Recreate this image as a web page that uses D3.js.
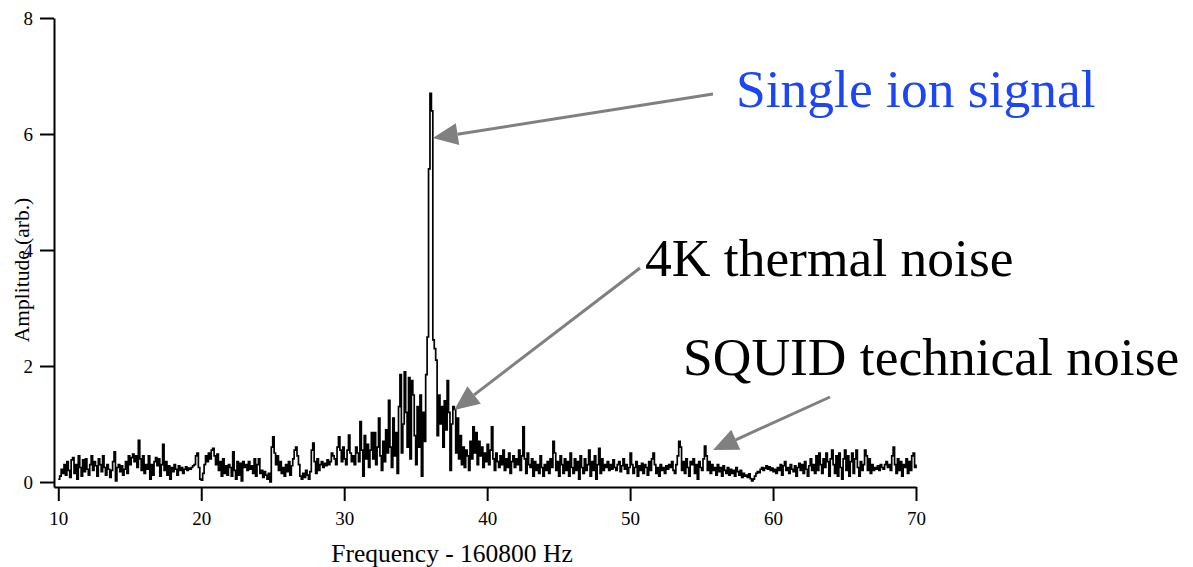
<!DOCTYPE html>
<html><head><meta charset="utf-8">
<script src="https://cdn.jsdelivr.net/npm/d3@7"></script>
<style>body{margin:0;background:#fff}svg{display:block}text{font-family:"Liberation Serif","Times New Roman",serif}</style>
</head><body><svg id="c" width="1193" height="567"></svg>
<script>
// Frequency start and step (Hz offset from 160800 Hz)
const freqStart = 10.0, freqStep = 0.1;
// Amplitude values (arb.), 10.0 .. 70.0 Hz, one row per Hz
const amplitude = [
0.05,0.10,0.22,0.15,0.30,0.12,0.35,0.20,0.08,0.38,
0.42,0.15,0.30,0.05,0.45,0.25,0.10,0.38,0.18,0.40,
0.22,0.12,0.30,0.45,0.20,0.35,0.28,0.10,0.40,0.30,
0.18,0.45,0.25,0.12,0.30,0.22,0.08,0.20,0.35,0.52,
0.02,0.25,0.30,0.18,0.28,0.12,0.22,0.35,0.15,0.45,
0.30,0.42,0.48,0.35,0.45,0.25,0.72,0.40,0.20,0.45,
0.15,0.30,0.22,0.45,0.05,0.30,0.12,0.35,0.42,0.28,
0.40,0.10,0.30,0.65,0.20,0.35,0.12,0.28,0.05,0.25,
0.18,0.30,0.22,0.12,0.28,0.20,0.25,0.15,0.22,0.26,
0.20,0.24,0.22,0.25,0.28,0.30,0.45,0.50,0.25,0.05,
0.03,0.15,0.30,0.45,0.35,0.50,0.40,0.55,0.58,0.45,
0.30,0.48,0.20,0.35,0.10,0.40,0.15,0.28,0.12,0.30,
0.25,0.10,0.52,0.20,0.05,0.35,0.12,0.32,0.02,0.35,
0.25,0.30,0.20,0.35,0.22,0.28,0.15,0.40,0.10,0.30,
0.40,0.15,0.20,0.08,0.18,0.12,0.05,0.15,0.00,0.60,
0.78,0.50,0.30,0.45,0.20,0.35,0.15,0.25,0.10,0.30,
0.18,0.35,0.12,0.28,0.40,0.55,0.60,0.45,0.30,0.10,
0.05,0.15,0.08,0.20,0.12,0.05,0.18,0.55,0.67,0.35,
0.15,0.40,0.20,0.30,0.35,0.25,0.32,0.28,0.38,0.30,
0.35,0.50,0.45,0.40,0.30,0.60,0.78,0.55,0.35,0.60,
0.40,0.30,0.55,0.81,0.50,0.35,0.45,0.30,0.60,0.50,
0.35,1.04,0.55,0.10,0.80,0.40,0.65,0.25,0.55,0.85,
0.40,0.85,0.30,0.60,1.10,0.45,0.20,0.70,0.35,0.90,
0.50,1.41,0.60,0.25,1.10,0.45,0.85,0.15,1.30,1.85,
0.50,1.00,1.90,1.20,0.60,1.80,0.40,1.75,1.50,0.80,
0.30,1.30,0.60,1.50,0.10,1.20,0.70,1.85,2.50,5.40,
6.70,6.40,2.45,2.30,2.10,0.80,1.50,1.00,1.30,0.60,
1.40,0.90,1.75,1.20,0.20,1.00,1.30,1.25,0.50,1.10,
0.40,0.80,0.30,0.60,0.25,0.55,0.45,0.20,0.70,0.40,
0.95,0.50,0.85,0.30,0.70,0.45,0.60,0.25,0.50,0.35,
0.65,0.30,0.55,0.95,0.40,0.20,0.50,0.35,0.25,0.45,
0.30,0.55,0.20,0.40,0.25,0.50,0.15,0.35,0.45,0.25,
0.40,0.30,0.55,0.20,0.45,0.95,0.40,0.15,0.50,0.30,
0.25,0.40,0.10,0.35,0.20,0.30,0.15,0.45,0.25,0.10,
0.30,0.20,0.35,0.15,0.40,0.25,0.70,0.50,0.20,0.35,
0.10,0.45,0.30,0.15,0.40,0.20,0.35,0.10,0.50,0.25,
0.15,0.40,0.20,0.35,0.05,0.45,0.25,0.15,0.40,0.20,
0.30,0.55,0.10,0.35,0.20,0.45,0.05,0.30,0.58,0.15,
0.40,0.20,0.30,0.25,0.35,0.20,0.30,0.22,0.38,0.25,
0.20,0.30,0.35,0.18,0.28,0.40,0.22,0.30,0.15,0.25,
0.50,0.30,0.15,0.25,0.35,0.10,0.28,0.20,0.32,0.15,
0.30,0.25,0.12,0.35,0.20,0.40,0.50,0.30,0.15,0.25,
0.10,0.30,0.20,0.25,0.15,0.28,0.22,0.30,0.25,0.35,
0.20,0.15,0.30,0.45,0.70,0.60,0.20,0.35,0.15,0.40,
0.25,0.10,0.35,0.30,0.40,0.15,0.30,0.05,0.35,0.25,
0.20,0.40,0.62,0.45,0.20,0.35,0.15,0.30,0.20,0.25,
0.12,0.30,0.18,0.25,0.10,0.28,0.20,0.15,0.25,0.12,
0.22,0.15,0.20,0.10,0.25,0.18,0.12,0.20,0.08,0.15,
0.10,0.12,0.08,0.14,0.06,0.02,0.05,0.10,0.15,0.18,
0.16,0.22,0.25,0.20,0.24,0.28,0.22,0.26,0.20,0.24,
0.18,0.22,0.15,0.25,0.20,0.30,0.12,0.28,0.35,0.20,
0.25,0.15,0.30,0.22,0.18,0.28,0.10,0.25,0.32,0.20,
0.30,0.15,0.35,0.22,0.10,0.28,0.40,0.20,0.30,0.15,
0.45,0.20,0.50,0.30,0.15,0.40,0.25,0.50,0.35,0.10,
0.40,0.55,0.30,0.15,0.45,0.10,0.50,0.25,0.05,0.40,
0.55,0.20,0.45,0.10,0.35,0.50,0.15,0.40,0.55,0.25,
0.10,0.35,0.20,0.30,0.55,0.45,0.20,0.40,0.15,0.30,
0.20,0.25,0.22,0.28,0.20,0.30,0.25,0.22,0.30,0.35,
0.25,0.30,0.20,0.45,0.60,0.30,0.15,0.40,0.20,0.35,
0.10,0.30,0.25,0.40,0.15,0.35,0.20,0.45,0.50,0.25,
0.30
];
const xTicks = [10,20,30,40,50,60,70];
const yTicks = [0,2,4,6,8];
const xTitle = "Frequency - 160800 Hz";
const yTitle = "Amplitude (arb.)";
// Annotations: label and arrow tip (freq, amp)
const annLabels = ["Single ion signal","4K thermal noise","SQUID technical noise"];
const annTips = [[36.2,5.93],[37.7,1.24],[55.8,0.55]];
const annColors = ["#1c46f2","#000","#000"];

const svg = d3.select("#c");
svg.append("rect").attr("width",1193).attr("height",567).attr("fill","#fff");
const x = d3.scaleLinear().domain([9.7,70]).range([54,916]);
const y = d3.scaleLinear().domain([-0.086,8]).range([487,18]);

const data = amplitude.map((v,i)=>({f: freqStart + i*freqStep, a: v}));

// axes
const gx = svg.append("g").attr("transform","translate(0,487)")
  .call(d3.axisBottom(x).tickValues(xTicks).tickSize(14).tickSizeOuter(0).tickPadding(6));
const gy = svg.append("g").attr("transform","translate(54,0)")
  .call(d3.axisLeft(y).tickValues(yTicks).tickSize(14).tickSizeOuter(0).tickPadding(7));
[gx,gy].forEach(g=>{
  g.select(".domain").attr("stroke","#000").attr("stroke-width",2);
  g.selectAll(".tick line").attr("stroke","#000").attr("stroke-width",2);
  g.selectAll(".tick text").attr("fill","#000").style("font-size","19px").style("font-family","'Liberation Serif',serif");
});
gx.selectAll(".tick text").attr("dy","0.95em");

// spectrum line
const line = d3.line().x(d=>x(d.f)).y(d=>y(d.a)).curve(d3.curveStepAfter);
svg.append("path").datum(data).attr("d",line)
  .attr("fill","none").attr("stroke","#000").attr("stroke-width",1.7).attr("stroke-linejoin","miter");

// titles
svg.append("text").attr("x",452).attr("y",562).attr("text-anchor","middle")
  .style("font-size","25.5px").text(xTitle);
svg.append("text").attr("transform","translate(29,270) rotate(-90)").attr("text-anchor","middle")
  .style("font-size","21.5px").text(yTitle);

// annotations
const annText = [[736,107],[645,276],[683,375]];
const annStart = [[713,94],[640,268],[830,397]];
annLabels.forEach((lab,i)=>{
  svg.append("text").attr("x",annText[i][0]).attr("y",annText[i][1])
    .attr("fill",annColors[i]).style("font-size","53.5px").text(lab);
  const tx = x(annTips[i][0]), ty = y(annTips[i][1]);
  const sx = annStart[i][0], sy = annStart[i][1];
  const ang = Math.atan2(ty-sy, tx-sx);
  const L = 25, W = 11;
  const bx = tx - L*Math.cos(ang), by = ty - L*Math.sin(ang);
  svg.append("line").attr("x1",sx).attr("y1",sy).attr("x2",bx).attr("y2",by)
    .attr("stroke","#808080").attr("stroke-width",3);
  const px = -Math.sin(ang), py = Math.cos(ang);
  svg.append("polygon").attr("points",
    [[tx,ty],[bx+W*px,by+W*py],[bx-W*px,by-W*py]].map(p=>p.join(",")).join(" "))
    .attr("fill","#808080");
});
</script></body></html>
